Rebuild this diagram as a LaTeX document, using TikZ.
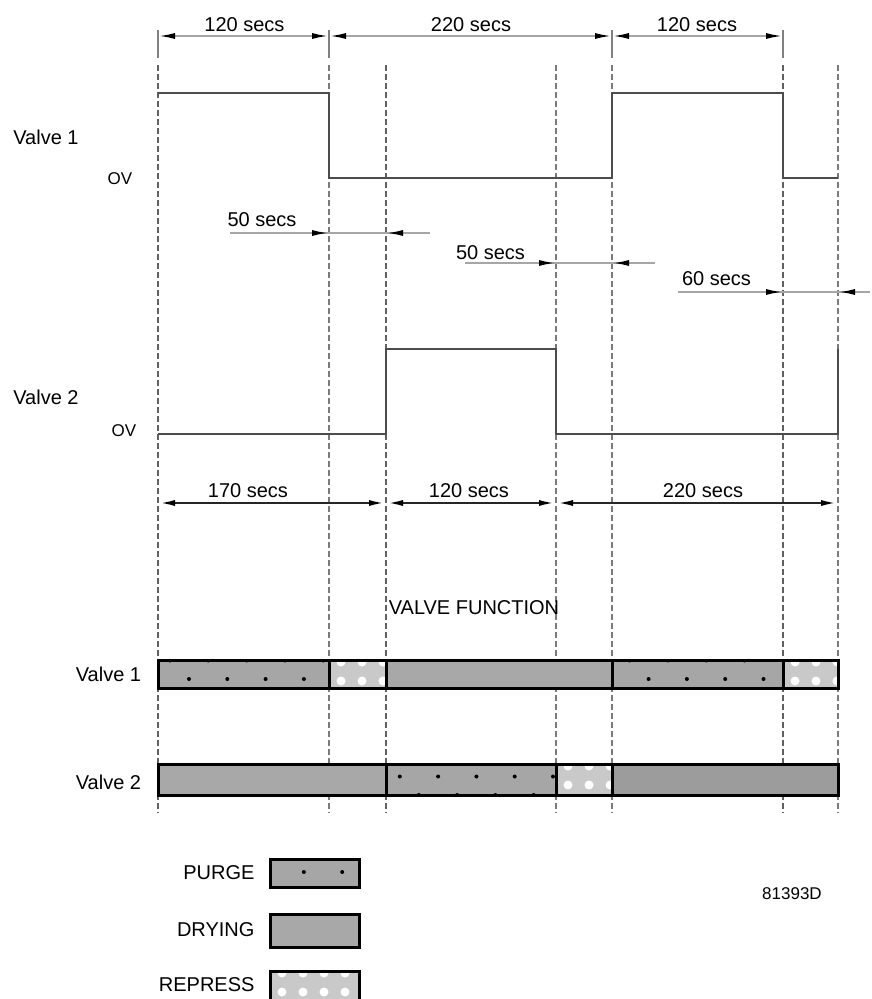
\documentclass[tikz,border=0pt]{standalone}
\usepackage{fontspec}
\setmainfont{Liberation Sans}
\usetikzlibrary{arrows.meta}

\definecolor{purgegray}{gray}{0.65}
\definecolor{drygray}{gray}{0.66}
\definecolor{drydark}{gray}{0.61}
\definecolor{repgray}{gray}{0.79}

% dotted purge segment: x0,y0,x1,y1,row of dots
\newcommand{\purgebox}[5]{%
  \begin{scope}
    \clip (#1,#2) rectangle (#3,#4);
    \fill[purgegray] (#1,#2) rectangle (#3,#4);
    \foreach \k in {0,...,18} {
      \fill (189+38.3*\k,#5) circle (2pt);
      \fill (170+38.3*\k,#5-18.5) circle (2pt);
    }
  \end{scope}}
% repress segment with white spots: x0,y0,x1,y1
\newcommand{\repressbox}[4]{%
  \begin{scope}
    \clip (#1,#2) rectangle (#3,#4);
    \fill[repgray] (#1,#2) rectangle (#3,#4);
    \foreach \k in {0,...,3} {
      \fill[white] (#1+12+21*\k,#2+2) circle (4.5pt);
      \fill[white] (#1+12+21*\k,#2+21) circle (4.5pt);
    }
  \end{scope}}

\begin{document}
\begin{tikzpicture}[x=1pt,y=-1pt,font=\fontsize{20}{24}\selectfont,
  guide/.style={draw=black!62,line width=2.2pt,dash pattern=on 6pt off 3pt},
  thinguide/.style={draw=black!52,line width=1.5pt,dash pattern=on 6pt off 3pt},
  tick/.style={draw=black!50,line width=1.6pt},
  wave/.style={draw=black!70,line width=2pt},
  dimline/.style={draw=black!35,line width=2pt},
  blackdim/.style={draw=black!85,line width=2.4pt},
  dimtips/.style={arrows={Latex[length=17pt,width=6pt,color=black]-Latex[length=17pt,width=6pt,color=black]}},
  dimtip/.style={arrows={-Latex[length=17pt,width=6pt,color=black]}},
  bar/.style={draw=black,line width=3pt},
  small/.style={font=\fontsize{17}{20}\selectfont}]
\useasboundingbox (0,0) rectangle (871,999);

% time marks
\foreach \x in {158,329,612,783} \draw[tick] (\x,30) -- (\x,58);
\foreach \x in {158,386,783} \draw[guide] (\x,65) -- (\x,813);
\foreach \x in {329,556,612,838} \draw[thinguide] (\x,65) -- (\x,813);

% top durations
\draw[dimline,dimtips] (158,36) -- (329,36);
\draw[dimline,dimtips] (329,36) -- (612,36);
\draw[dimline,dimtips] (612,36) -- (783,36);
\node (d1) at (244.5,24.5) {120 secs};
\node (d2) at (471,24.5) {220 secs};
\node (d3) at (697,24.5) {120 secs};

% valve 1 signal
\node (v1) at (46,137) {Valve 1};
\node[small] (ov1) at (120,179) {OV};
\draw[wave] (158,93) -- (329,93) -- (329,178) -- (612,178) -- (612,93)
  -- (783,93) -- (783,178) -- (838,178);

% overlaps
\draw[dimline] (230,233) -- (430,233);
\draw[dimline,dimtip] (290,233) -- (329,233);
\draw[dimline,dimtip] (430,233) -- (386,233);
\node (o1) at (262,220) {50 secs};
\draw[dimline] (465,263) -- (655,263);
\draw[dimline,dimtip] (520,263) -- (556,263);
\draw[dimline,dimtip] (655,263) -- (612,263);
\node (o2) at (490.5,252.5) {50 secs};
\draw[dimline] (678,292) -- (870,292);
\draw[dimline,dimtip] (740,292) -- (783,292);
\draw[dimline,dimtip] (870,292) -- (838,292);
\node (o3) at (716.5,278.5) {60 secs};

% valve 2 signal
\node (v2) at (46,397) {Valve 2};
\node[small] (ov2) at (124,431) {OV};
\draw[wave] (158,434) -- (386,434) -- (386,349) -- (556,349) -- (556,434)
  -- (838,434) -- (838,349);

% bottom durations
\draw[blackdim,dimtips] (158,503) -- (386,503);
\draw[blackdim,dimtips] (386,503) -- (556,503);
\draw[blackdim,dimtips] (556,503) -- (838,503);
\node (e1) at (248,491) {170 secs};
\node (e2) at (469,491) {120 secs};
\node (e3) at (703,491) {220 secs};

\node (title) at (474,608) {VALVE FUNCTION};

% valve 1 bar
\node (b1) at (108.5,674) {Valve 1};
\purgebox{158}{660}{329}{688}{679}
\repressbox{329}{660}{386}{688}
\fill[drygray] (386,660) rectangle (612,688);
\purgebox{612}{660}{783}{688}{679}
\repressbox{783}{660}{838}{688}
\draw[bar] (158,660) rectangle (838,688);
\foreach \x in {329,386,612,783} \draw[bar] (\x,660) -- (\x,688);

% valve 2 bar
\node (b2) at (108.5,782) {Valve 2};
\fill[drygray] (158,764) rectangle (386,795);
\purgebox{386}{764}{556}{795}{795}
\repressbox{556}{764}{612}{795}
\fill[drydark] (612,764) rectangle (838,795);
\draw[bar] (158,764) rectangle (838,795);
\foreach \x in {386,556,612} \draw[bar] (\x,764) -- (\x,795);

% legend
\node[anchor=east] (lp) at (258,873) {PURGE};
\purgebox{270}{859}{359}{887}{872}
\draw[bar] (270,859) rectangle (359,887);
\node[anchor=east] (ld) at (258,930) {DRYING};
\fill[drygray] (270,914) rectangle (359,947);
\draw[bar] (270,914) rectangle (359,947);
\node[anchor=east] (lr) at (258,985) {REPRESS};
\repressbox{270}{971}{359}{1005}
\draw[bar] (270,971) rectangle (359,1005);

\node[small] (code) at (792,894) {81393D};
\end{tikzpicture}
\end{document}
